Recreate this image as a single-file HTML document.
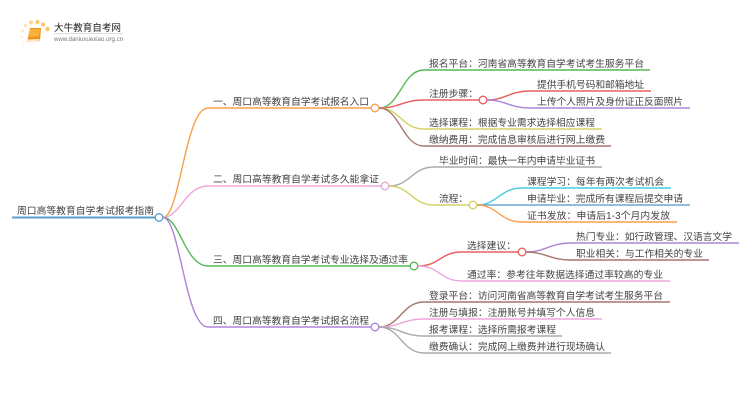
<!DOCTYPE html>
<html lang="zh">
<head>
<meta charset="utf-8">
<title>周口高等教育自学考试报考指南</title>
<style>
html,body{margin:0;padding:0;background:#fff;width:750px;height:410px;overflow:hidden}
svg{display:block;filter:blur(0.35px)}
text{font-family:"Liberation Sans","Noto Sans CJK SC",sans-serif;font-size:9.8px;fill:#444}
tspan.c{font-family:"Liberation Sans","Noto Sans CJK TC",sans-serif}
path{fill:none;stroke-width:1.4}
circle{fill:#fff;stroke-width:1.4}
</style>
</head>
<body>
<svg width="750" height="410" viewBox="0 0 750 410" xmlns="http://www.w3.org/2000/svg">
<!-- logo -->
<g stroke="none">
<circle cx="31" cy="22.500" r="2" style="fill:#fbd98a;stroke:none"/>
<circle cx="37.500" cy="22" r="2" style="fill:#fbc95e;stroke:none"/>
<circle cx="43" cy="24.500" r="2" style="fill:#fbc95e;stroke:none"/>
<circle cx="47.500" cy="29" r="2.200" style="fill:#fbc95e;stroke:none"/>
<circle cx="25.500" cy="25.500" r="1.600" style="fill:#fde3a8;stroke:none"/>
<circle cx="22.500" cy="31" r="1.400" style="fill:#fdeac0;stroke:none"/>
<circle cx="21.500" cy="37" r="1.200" style="fill:#fdeeca;stroke:none"/>
<circle cx="23.500" cy="42.500" r="1" style="fill:#fdf0d4;stroke:none"/>
<polygon points="30,28 41,28 40,41 27,42" style="fill:#f0921a"/>
<polygon points="30,29 40,29 39,36 28.500,37" style="fill:#f7b23a"/>
<polygon points="27,39.500 39.500,39 39.500,41 27.500,42" style="fill:#ffe9c4"/>
</g>
<text x="54" y="31" textLength="67" lengthAdjust="spacingAndGlyphs" style="font-size:9.6px;fill:#222">大牛教育自考网</text>
<rect x="54" y="33" width="69" height="0.7" style="fill:#ccc"/>
<text x="54" y="41" textLength="69" lengthAdjust="spacingAndGlyphs" style="font-size:6px;fill:#777">www.daniuxuexiao.org.cn</text>

<!-- root -->
<path d="M12 217.500H155" stroke="#5b9fd1" style="stroke-width:2"/>
<path d="M163 217.500C180 217.500 185 108 208 108H371" stroke="#f9a04c"/>
<path d="M163 217.500C180 217.500 185 186 208 186H381" stroke="#eda6dc"/>
<path d="M163 217.500C180 217.500 185 266 208 266H410" stroke="#55b855"/>
<path d="M163 217.500C180 217.500 185 327 208 327H371" stroke="#ad86d6"/>
<circle cx="159" cy="217.500" r="3.800" stroke="#5b9fd1"/>
<text x="17" y="214" textLength="137">周口高等教育自学考试报考指南</text>

<!-- branch 1 -->
<text x="213" y="105" textLength="156">一、周口高等教育自学考试报名入口</text>
<circle cx="375" cy="108" r="3.800" stroke="#f9a04c"/>
<path d="M379 108C400 108 402 70 424 70H650" stroke="#55b855"/>
<path d="M379 108C400 108 402 100 424 100H479" stroke="#e8605f"/>
<path d="M379 108C400 108 402 129 424 129H602" stroke="#d2d265"/>
<path d="M379 108C400 108 402 146 424 146H611" stroke="#a8776c"/>
<text x="429" y="67" textLength="215">报名平台<tspan class="c">：</tspan>河南省高等教育自学考试考生服务平台</text>
<text x="429" y="97" textLength="49">注册步骤<tspan class="c">：</tspan></text>
<text x="429" y="126" textLength="166">选择课程<tspan class="c">：</tspan>根据专业需求选择相应课程</text>
<text x="429" y="143" textLength="176">缴纳费用<tspan class="c">：</tspan>完成信息审核后进行网上缴费</text>
<circle cx="483" cy="100" r="3.800" stroke="#e8605f"/>
<path d="M487 100C505 100 510 91 530 91H651" stroke="#e8605f"/>
<path d="M487 100C505 100 510 108 530 108H690" stroke="#ad86d6"/>
<text x="537" y="88" textLength="107">提供手机号码和邮箱地址</text>
<text x="537" y="105" textLength="146">上传个人照片及身份证正反面照片</text>

<!-- branch 2 -->
<text x="213" y="182.500" textLength="166">二、周口高等教育自学考试多久能拿证</text>
<circle cx="385" cy="186" r="3.800" stroke="#eda6dc"/>
<path d="M389 186C410 186 412 167 434 167H602" stroke="#aaa"/>
<path d="M389 186C410 186 412 205 434 205H469" stroke="#d2d265"/>
<text x="439" y="164" textLength="156">毕业时间<tspan class="c">：</tspan>最快一年内申请毕业证书</text>
<text x="439" y="202" textLength="29">流程<tspan class="c">：</tspan></text>
<circle cx="473" cy="205" r="3.800" stroke="#d2d265"/>
<path d="M477 205C497 205 500 188 522 188H671" stroke="#45cbe0"/>
<path d="M477 205H690" stroke="#6aa9d4"/>
<path d="M477 205C497 205 500 222 522 222H677" stroke="#f9a04c"/>
<text x="527" y="185" textLength="137">课程学习<tspan class="c">：</tspan>每年有两次考试机会</text>
<text x="527" y="202" textLength="156">申请毕业<tspan class="c">：</tspan>完成所有课程后提交申请</text>
<text x="527" y="219" textLength="143">证书发放<tspan class="c">：</tspan>申请后1-3个月内发放</text>

<!-- branch 3 -->
<text x="213" y="263" textLength="195">三、周口高等教育自学考试专业选择及通过率</text>
<circle cx="414" cy="266" r="3.800" stroke="#55b855"/>
<path d="M418 266C440 266 440 252 462 252H518" stroke="#e8605f"/>
<path d="M418 266C440 266 440 281 462 281H670" stroke="#eda6dc"/>
<text x="467" y="249" textLength="49">选择建议<tspan class="c">：</tspan></text>
<text x="467" y="278" textLength="196">通过率<tspan class="c">：</tspan>参考往年数据选择通过率较高的专业</text>
<circle cx="522" cy="252" r="3.800" stroke="#e8605f"/>
<path d="M526 252C545 252 550 243 571 243H739" stroke="#ad86d6"/>
<path d="M526 252C545 252 550 260 571 260H709" stroke="#a8776c"/>
<text x="576" y="240" textLength="156">热门专业<tspan class="c">：</tspan>如行政管理、汉语言文学</text>
<text x="576" y="257" textLength="127">职业相关<tspan class="c">：</tspan>与工作相关的专业</text>

<!-- branch 4 -->
<text x="213" y="324" textLength="156">四、周口高等教育自学考试报名流程</text>
<circle cx="375" cy="327" r="3.800" stroke="#ad86d6"/>
<path d="M379 327C400 327 402 302 424 302H670" stroke="#a8776c"/>
<path d="M379 327C400 327 402 319 424 319H602" stroke="#eda6dc"/>
<path d="M379 327C400 327 402 336 424 336H562" stroke="#aaa"/>
<path d="M379 327C400 327 402 353 424 353H611" stroke="#aaa"/>
<text x="429" y="299" textLength="234">登录平台<tspan class="c">：</tspan>访问河南省高等教育自学考试考生服务平台</text>
<text x="429" y="316" textLength="166">注册与填报<tspan class="c">：</tspan>注册账号并填写个人信息</text>
<text x="429" y="333" textLength="127">报考课程<tspan class="c">：</tspan>选择所需报考课程</text>
<text x="429" y="350" textLength="176">缴费确认<tspan class="c">：</tspan>完成网上缴费并进行现场确认</text>
</svg>
</body>
</html>
